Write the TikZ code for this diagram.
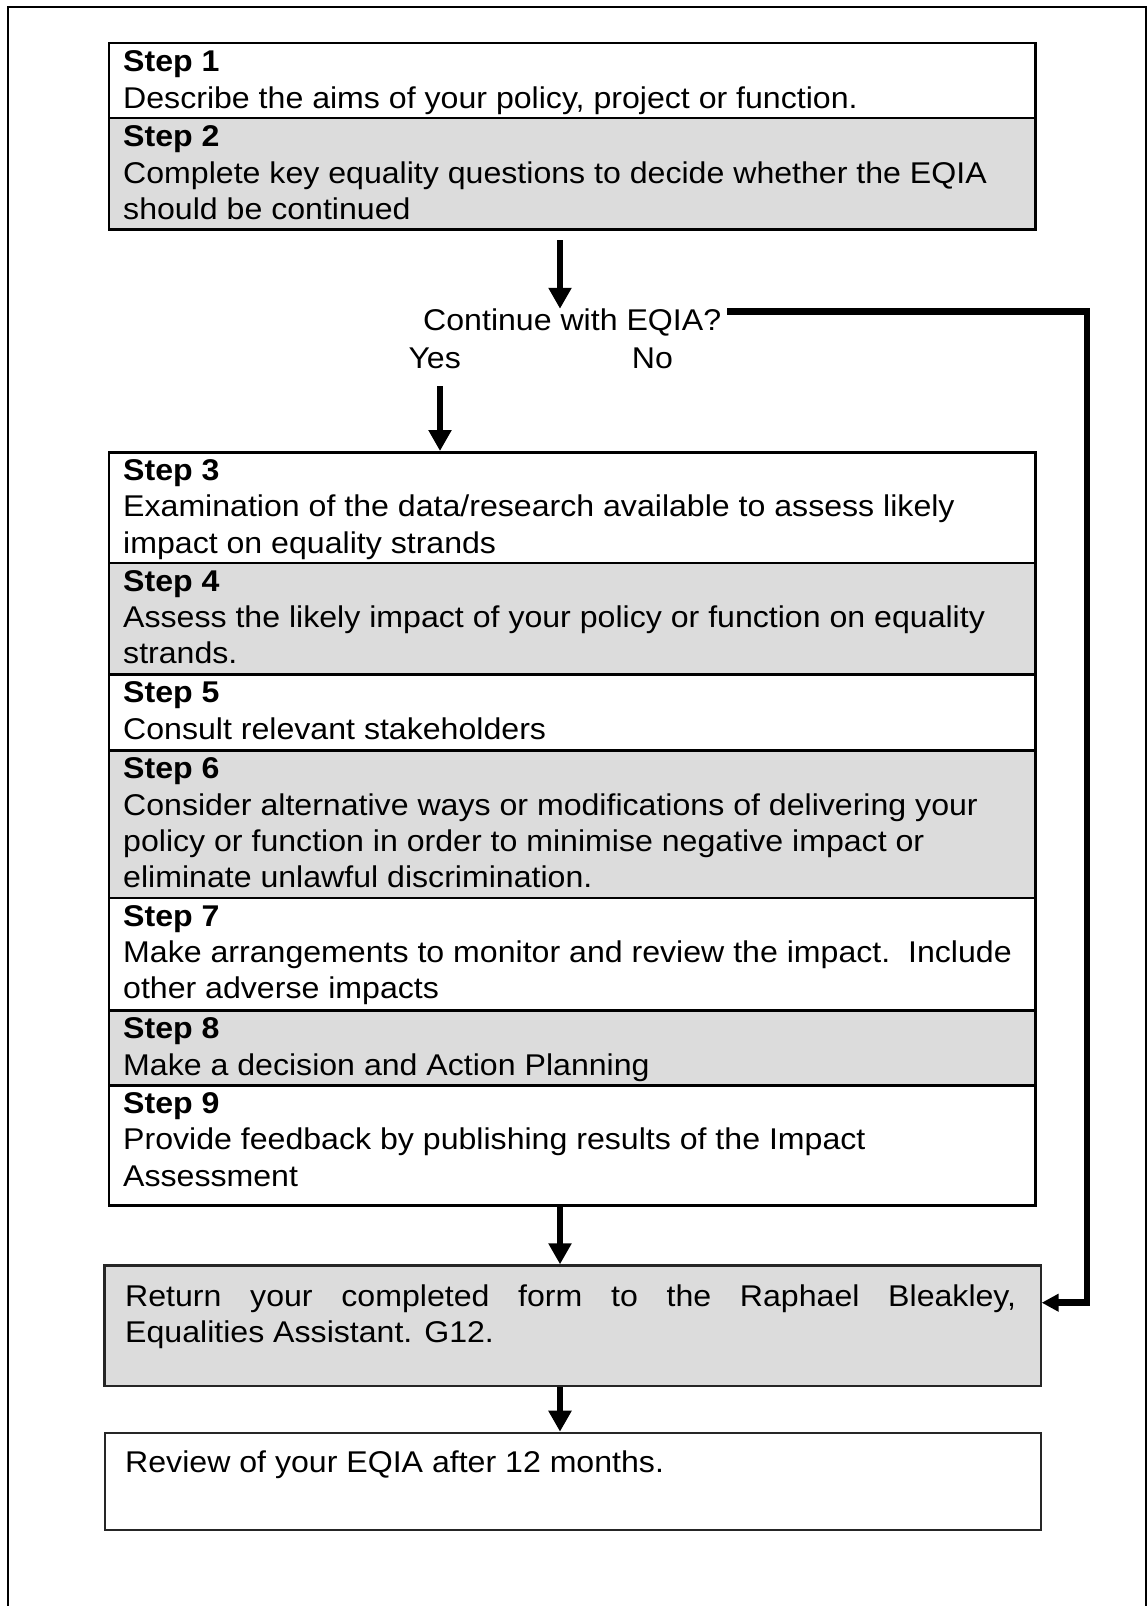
\documentclass[tikz,border=0pt]{standalone}
\usepackage{fontspec}
\setmainfont[FakeStretch=1.07]{Liberation Sans}
\usetikzlibrary{arrows.meta,calc}
\definecolor{boxgray}{RGB}{220,220,220}
\newcommand\fsz{\fontsize{30pt}{36.3pt}\selectfont}
\newcommand\stepblock[2]{\parbox[t]{910pt}{\fsz\raggedright\textbf{Step #1}\\#2}}
\tikzset{
  sec/.style={draw=black, line width=2.5pt, rectangle, inner sep=0pt, anchor=north west, minimum width=926.5pt},
  secw/.style={sec, fill=white},
  secg/.style={sec, fill=boxgray},
  txt/.style={anchor=base west, inner sep=0pt, font=\fsz},
  bigarr/.style={line width=6.5pt, -{Triangle[width=22pt,length=21pt]}},
  smallarr/.style={line width=6.5pt, line join=miter, -{Triangle[width=17pt,length=17pt]}},
  frame/.style={line width=2.2pt},
}
\begin{document}
\begin{tikzpicture}[x=1pt,y=-1pt]
\useasboundingbox (0,0) rectangle (1147,1606);
% outer frame
\draw[frame] (8,1612) -- (8,7) -- (1146.5,7) -- (1146.5,1612);

% Steps 1-2
\node[secw, minimum height=75pt]    (s1) at (107.5,41.7)  {};
\node[secg, minimum height=111.6pt] (s2) at (107.5,116.7) {};
\node[txt] (t1) at ($(s1.north west)+(15.5,30)$) {\stepblock{1}{Describe the aims of your policy, project or function.}};
\node[txt] (t2) at ($(s2.north west)+(15.5,30)$) {\stepblock{2}{Complete key equality questions to decide whether the EQIA\\should be continued}};

% decision
\node[txt] (q)   at (423,330.7) {Continue with EQIA?};
\node[txt] (yes) at (408.3,368.3) {Yes};
\node[txt] (no)  at (631.7,368.3) {No};

% Steps 3-9
\node[secw, minimum height=110.7pt] (s3) at (107.5,451)    {};
\node[secg, minimum height=111.6pt] (s4) at (107.5,561.7)  {};
\node[secw, minimum height=76pt]    (s5) at (107.5,673.3)  {};
\node[secg, minimum height=147.4pt] (s6) at (107.5,749.3)  {};
\node[secw, minimum height=112.6pt] (s7) at (107.5,896.7)  {};
\node[secg, minimum height=74.7pt]  (s8) at (107.5,1009.3) {};
\node[secw, minimum height=120pt]   (s9) at (107.5,1084)   {};
\node[txt] (t3) at ($(s3.north west)+(15.5,29.5)$) {\stepblock{3}{Examination of the data/research available to assess likely\\impact on equality strands}};
\node[txt] (t4) at ($(s4.north west)+(15.5,29.5)$) {\stepblock{4}{Assess the likely impact of your policy or function on equality\\strands.}};
\node[txt] (t5) at ($(s5.north west)+(15.5,29.5)$) {\stepblock{5}{Consult relevant stakeholders}};
\node[txt] (t6) at ($(s6.north west)+(15.5,29.5)$) {\stepblock{6}{Consider alternative ways or modifications of delivering your\\policy or function in order to minimise negative impact or\\eliminate unlawful discrimination.}};
\node[txt] (t7) at ($(s7.north west)+(15.5,29.5)$) {\stepblock{7}{Make arrangements to monitor and review the impact.\ \ Include\\other adverse impacts}};
\node[txt] (t8) at ($(s8.north west)+(15.5,29.5)$) {\stepblock{8}{Make a decision and Action Planning}};
\node[txt] (t9) at ($(s9.north west)+(15.5,29.5)$) {\stepblock{9}{Provide feedback by publishing results of the Impact\\Assessment}};

% return box
\node[draw=black!85, line width=2.2pt, fill=boxgray, rectangle, inner sep=0pt, anchor=north west,
      minimum width=936.2pt, minimum height=120.7pt] (ret) at (103.3,1264.3) {};
\node[txt] (tret) at (125,1306) {\parbox[t]{891pt}{\fsz\makebox[891pt][s]{Return your completed form to the Raphael Bleakley,}\\Equalities Assistant. G12.}};

% review box
\node[draw=black!85, line width=2.2pt, fill=white, rectangle, inner sep=0pt, anchor=north west,
      minimum width=936pt, minimum height=97.3pt] (rev) at (103.5,1431.7) {};
\node[txt] (trev) at (125,1472) {Review of your EQIA after 12 months.};

% connectors
\coordinate (a1s) at (560,240);
\draw[bigarr] (a1s) -- (a1s |- q.north);
\coordinate (a2s) at (440,386);
\draw[bigarr] (a2s) -- (a2s |- s3.north);
\coordinate (a3s) at (560,1206.7);
\draw[bigarr] (a3s) -- (a3s |- ret.north);
\draw[bigarr] (ret.south -| a3s) -- (rev.north -| a3s);
\coordinate (n0) at (727,311.7);
\coordinate (n1) at (1087,1302.7);
\draw[smallarr] (n0) -| (n1) -- (n1 -| ret.east);
\end{tikzpicture}
\end{document}
